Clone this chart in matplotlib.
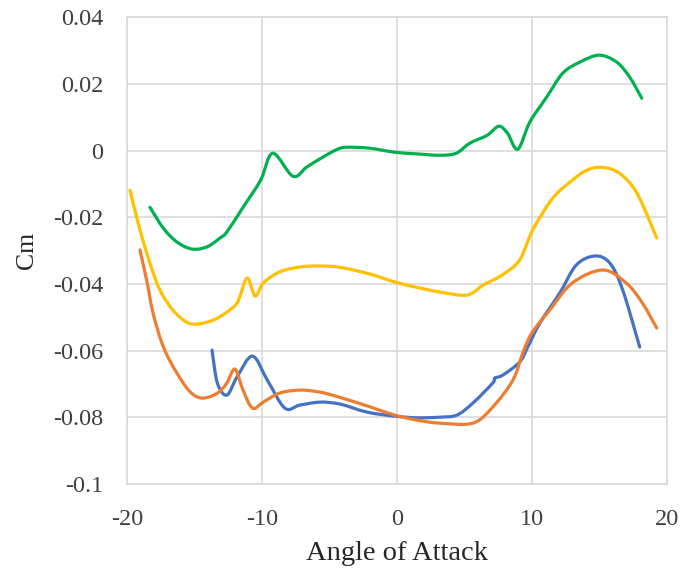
import matplotlib.pyplot as plt
from matplotlib.path import Path
from matplotlib.patches import PathPatch

plt.rcParams['font.family'] = ['Liberation Serif', 'DejaVu Serif']

# angle of attack / Cm, one pair of lists per curve
blue_x = [-13.7, -13.3, -12.6, -11.85, -10.7, -9.6, -8.3, -7.2, -5.7, -4.2, -2.2, -0.15,
          1.5, 3.19, 4.44, 5.63, 7.1, 7.26, 7.85, 9.1, 9.7, 10.6, 12.07, 13.3, 14.67,
          15.78, 16.74, 18.0]
blue_y = [-0.0598, -0.0697, -0.0733, -0.0679, -0.0616, -0.0688, -0.0772, -0.0763, -0.0754,
          -0.0760, -0.0784, -0.0796, -0.0801, -0.0799, -0.0793, -0.0757, -0.0697, -0.0682,
          -0.0673, -0.0634, -0.0589, -0.0517, -0.0427, -0.0343, -0.0316, -0.0337, -0.0418,
          -0.0589]

orange_x = [-19.04, -18.5, -18.07, -17.3, -16.3, -15.3, -14.4, -13.3, -12.6, -12.0, -11.4,
            -10.7, -9.9, -8.7, -7.2, -5.7, -4.2, -2.0, -0.15, 1.5, 3.19, 5.63, 7.1, 8.6,
            9.33, 10.0, 11.33, 13.0, 15.26, 17.0, 18.2, 19.26]
orange_y = [-0.0298, -0.0397, -0.0487, -0.0589, -0.0667, -0.0724, -0.0742, -0.0727, -0.0697,
            -0.0655, -0.0718, -0.0772, -0.0754, -0.0727, -0.0718, -0.0724, -0.0740, -0.0768,
            -0.0793, -0.0808, -0.0817, -0.0817, -0.0769, -0.0688, -0.0607, -0.0547, -0.0478,
            -0.0397, -0.0358, -0.0397, -0.0457, -0.0532]

yellow_x = [-19.78, -19.04, -18.3, -17.56, -16.6, -15.6, -14.8, -13.6, -12.6, -11.8, -11.1,
            -10.5, -9.9, -8.7, -7.2, -5.7, -4.2, -2.0, -0.15, 1.5, 3.19, 5.2, 6.4, 7.8, 9.1,
            10.07, 11.55, 13.0, 14.07, 15.2, 16.5, 17.8, 19.26]
yellow_y = [-0.0119, -0.0238, -0.0337, -0.0418, -0.0478, -0.0514, -0.0520, -0.0508, -0.0484,
            -0.0454, -0.0382, -0.0436, -0.0397, -0.0364, -0.0349, -0.0346, -0.0350, -0.0370,
            -0.0394, -0.0410, -0.0424, -0.0433, -0.0403, -0.0373, -0.0328, -0.0238, -0.0143,
            -0.0089, -0.0059, -0.0050, -0.0068, -0.0128, -0.0262]

green_x = [-18.3, -17.3, -16.3, -15.2, -14.1, -13.1, -12.6, -11.4, -10.1, -9.2, -7.7, -6.7,
           -5.5, -4.4, -3.7, -2.0, -0.15, 1.5, 3.19, 4.4, 5.4, 6.7, 7.56, 8.2, 8.96, 9.85,
           11.1, 12.3, 13.56, 15.0, 16.3, 17.26, 18.15]
green_y = [-0.0170, -0.0233, -0.0274, -0.0295, -0.0289, -0.0262, -0.0244, -0.0170, -0.0089,
           -0.0008, -0.0077, -0.0050, -0.0020, 0.0004, 0.0010, 0.0007, -0.0005, -0.0010,
           -0.0014, -0.0008, 0.0022, 0.0046, 0.0073, 0.0052, 0.0004, 0.0085, 0.0160, 0.0232,
           0.0265, 0.0286, 0.0265, 0.0220, 0.0157]

x_ticks = [-20, -10, 0, 10, 20]
y_ticks = [-0.1, -0.08, -0.06, -0.04, -0.02, 0, 0.02, 0.04]
y_labels = ['-0.1', '-0.08', '-0.06', '-0.04', '-0.02', '0', '0.02', '0.04']


def smooth_line(ax, xs, ys, color):
    # excel style smoothed line: bezier segments through the points
    pts = list(zip(xs, ys))
    verts = [pts[0]]
    codes = [Path.MOVETO]
    for i in range(len(pts) - 1):
        p0 = pts[i - 1] if i > 0 else pts[i]
        p1 = pts[i]
        p2 = pts[i + 1]
        p3 = pts[i + 2] if i + 2 < len(pts) else pts[i + 1]
        c1 = (p1[0] + (p2[0] - p0[0]) / 6, p1[1] + (p2[1] - p0[1]) / 6)
        c2 = (p2[0] - (p3[0] - p1[0]) / 6, p2[1] - (p3[1] - p1[1]) / 6)
        verts += [c1, c2, p2]
        codes += [Path.CURVE4] * 3
    patch = PathPatch(Path(verts, codes), facecolor='none', edgecolor=color, lw=2.3,
                      joinstyle='round', capstyle='round')
    ax.add_patch(patch)


fig = plt.figure(figsize=(6.81, 5.71), dpi=100)
ax = fig.add_axes([0.1865, 0.152, 0.7925, 0.818])

smooth_line(ax, blue_x, blue_y, '#4472C4')
smooth_line(ax, orange_x, orange_y, '#ED7D31')
smooth_line(ax, yellow_x, yellow_y, '#FFC000')
smooth_line(ax, green_x, green_y, '#00B050')

ax.set_xlim(-20, 20)
ax.set_ylim(-0.1, 0.04)
ax.set_xticks(x_ticks)
ax.set_xticklabels([str(t) for t in x_ticks])
ax.set_yticks(y_ticks)
ax.set_yticklabels(y_labels)
ax.grid(color='#d9d9d9', lw=1.2)
ax.set_axisbelow(True)
for s in ax.spines.values():
    s.set_color('#d9d9d9')
    s.set_linewidth(1.2)
ax.tick_params(length=0, labelsize=17.5, colors='#404040')
ax.tick_params(axis='x', pad=18)
ax.tick_params(axis='y', pad=17)

ax.set_xlabel('Angle of Attack', fontsize=20.5, labelpad=8, color='#262626')
ax.set_ylabel('Cm', fontsize=18.5, labelpad=11, color='#262626')

fig.savefig('out.png', dpi=100)
